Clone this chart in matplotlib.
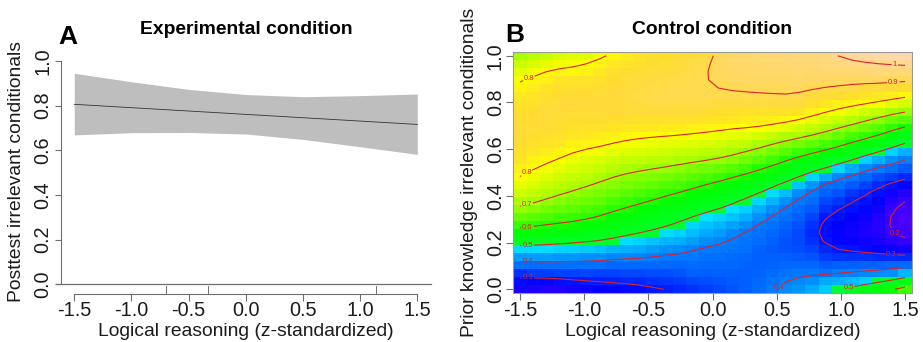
import numpy as np
import matplotlib
matplotlib.use("Agg")
import matplotlib.pyplot as plt
from matplotlib.colors import LinearSegmentedColormap

plt.rcParams["font.family"] = ["Liberation Sans", "DejaVu Sans"]

FIG_W, FIG_H = 923, 342
AXIS_GREY = "#6e6e6e"
TEXT = "#1c1c1c"

# panel A
exp_x = [-1.5, -1.0, -0.5, 0.0, 0.5, 1.0, 1.5]
exp_mean = [0.806, 0.791, 0.776, 0.761, 0.746, 0.731, 0.716]
exp_upper = [0.945, 0.907, 0.873, 0.850, 0.840, 0.845, 0.852]
exp_lower = [0.669, 0.679, 0.680, 0.673, 0.649, 0.616, 0.582]
rug_x = [-0.70, -0.333, 1.136]
tick_x = [-1.5, -1.0, -0.5, 0.0, 0.5, 1.0, 1.5]
tick_y = [0.0, 0.2, 0.4, 0.6, 0.8, 1.0]

# panel B, one list per column, bottom row first
ctrl_columns = [
    [.25,.28,.32,.38,.43,.48,.53,.575,.617,.655,.695,.72,.75,.775,.802,.82,.835,.85,.86,.865,.865,.86,.855,.845,.83,.815,.795,.775,.745,.71],
    [.245,.275,.33,.378,.43,.48,.525,.565,.61,.645,.68,.71,.735,.76,.78,.804,.82,.835,.85,.86,.865,.865,.86,.85,.84,.825,.81,.79,.76,.73],
    [.24,.275,.33,.38,.43,.48,.52,.56,.60,.635,.665,.695,.72,.745,.765,.788,.81,.825,.84,.855,.865,.87,.87,.865,.855,.84,.82,.805,.775,.745],
    [.24,.285,.335,.38,.425,.475,.515,.555,.595,.625,.655,.68,.707,.73,.75,.775,.795,.815,.83,.845,.855,.865,.87,.87,.86,.85,.835,.815,.785,.76],
    [.25,.29,.335,.38,.425,.47,.51,.55,.59,.62,.645,.67,.695,.72,.74,.76,.78,.80,.82,.835,.85,.86,.87,.87,.865,.855,.84,.81,.79,.77],
    [.26,.30,.34,.38,.42,.465,.505,.54,.58,.61,.635,.66,.68,.705,.73,.75,.77,.79,.815,.83,.845,.86,.865,.87,.865,.855,.84,.82,.80,.775],
    [.27,.30,.335,.38,.42,.46,.50,.535,.57,.60,.625,.65,.67,.695,.715,.74,.76,.785,.81,.825,.845,.86,.87,.87,.87,.86,.85,.83,.815,.79],
    [.275,.305,.335,.37,.41,.45,.49,.52,.555,.58,.61,.63,.655,.68,.70,.725,.75,.775,.795,.82,.84,.855,.87,.875,.875,.87,.86,.85,.83,.81],
    [.28,.31,.34,.37,.41,.445,.48,.51,.54,.57,.60,.62,.645,.67,.69,.715,.74,.765,.79,.81,.835,.855,.87,.875,.88,.875,.87,.86,.84,.825],
    [.285,.31,.34,.37,.405,.44,.47,.50,.53,.56,.585,.61,.635,.66,.68,.71,.735,.76,.785,.805,.83,.85,.87,.88,.885,.88,.875,.865,.85,.84],
    [.295,.32,.345,.37,.40,.43,.46,.49,.515,.545,.57,.60,.625,.65,.675,.70,.73,.755,.78,.80,.83,.85,.87,.885,.89,.885,.88,.87,.86,.85],
    [.30,.325,.345,.37,.39,.42,.45,.48,.505,.53,.555,.585,.61,.64,.665,.695,.725,.75,.775,.80,.825,.85,.87,.885,.895,.89,.885,.875,.865,.855],
    [.31,.33,.35,.37,.39,.41,.445,.47,.49,.515,.54,.57,.60,.63,.655,.685,.715,.745,.77,.795,.825,.85,.87,.885,.895,.895,.89,.88,.875,.865],
    [.32,.34,.36,.375,.39,.40,.43,.455,.475,.50,.525,.555,.585,.615,.645,.675,.71,.74,.765,.79,.82,.845,.87,.885,.895,.897,.895,.89,.885,.875],
    [.33,.345,.36,.37,.38,.39,.415,.44,.46,.485,.51,.54,.57,.60,.63,.665,.70,.73,.76,.785,.815,.84,.865,.885,.895,.895,.895,.895,.89,.885],
    [.34,.35,.36,.37,.38,.39,.405,.43,.45,.475,.50,.53,.56,.585,.62,.655,.695,.725,.755,.78,.81,.835,.86,.88,.893,.90,.91,.915,.915,.91],
    [.35,.355,.36,.37,.375,.385,.395,.41,.435,.46,.485,.505,.54,.57,.605,.64,.68,.71,.745,.775,.80,.83,.855,.88,.893,.905,.915,.925,.93,.93],
    [.36,.36,.36,.365,.37,.38,.385,.395,.42,.445,.47,.49,.52,.55,.59,.625,.665,.695,.735,.77,.80,.825,.85,.88,.893,.905,.92,.93,.935,.94],
    [.375,.37,.365,.36,.36,.365,.375,.38,.395,.42,.445,.475,.50,.535,.57,.605,.645,.68,.715,.755,.80,.825,.85,.88,.895,.91,.92,.93,.94,.945],
    [.395,.385,.375,.365,.36,.355,.36,.37,.38,.395,.42,.45,.48,.505,.55,.59,.625,.665,.70,.74,.785,.82,.85,.88,.895,.91,.925,.935,.945,.95],
    [.415,.40,.385,.37,.36,.35,.35,.355,.365,.38,.39,.42,.455,.49,.525,.565,.60,.645,.68,.72,.775,.81,.85,.88,.90,.91,.925,.94,.95,.955],
    [.425,.41,.39,.37,.355,.345,.34,.34,.35,.36,.375,.39,.415,.46,.503,.54,.58,.62,.665,.712,.756,.80,.84,.875,.895,.915,.93,.945,.955,.96],
    [.44,.42,.39,.37,.35,.335,.32,.31,.32,.335,.355,.375,.395,.425,.475,.52,.565,.607,.65,.695,.737,.78,.82,.85,.88,.905,.925,.94,.955,.965],
    [.465,.44,.385,.355,.33,.31,.29,.28,.285,.295,.32,.34,.365,.38,.44,.503,.545,.585,.63,.675,.72,.76,.805,.835,.87,.90,.925,.945,.96,.975],
    [.49,.445,.40,.36,.325,.295,.275,.265,.27,.285,.30,.325,.35,.375,.405,.475,.527,.57,.615,.655,.70,.745,.785,.82,.86,.89,.925,.95,.97,1.005],
    [.52,.455,.405,.36,.32,.29,.265,.255,.26,.27,.285,.30,.325,.355,.39,.44,.503,.545,.59,.63,.68,.725,.77,.815,.85,.888,.92,.95,.985,1.02],
    [.54,.47,.41,.365,.32,.28,.26,.245,.25,.26,.275,.285,.305,.335,.37,.41,.47,.52,.57,.615,.66,.705,.75,.80,.84,.875,.92,.955,.995,1.03],
    [.56,.495,.415,.365,.315,.275,.25,.235,.23,.24,.255,.27,.285,.31,.345,.39,.445,.50,.55,.595,.64,.685,.735,.79,.835,.875,.92,.96,1.0,1.04],
    [.59,.51,.42,.37,.315,.265,.225,.20,.185,.19,.205,.23,.255,.29,.33,.375,.42,.47,.52,.567,.615,.66,.712,.77,.825,.87,.915,.96,1.005,1.05],
    [.625,.54,.45,.375,.31,.255,.205,.18,.165,.16,.175,.20,.235,.275,.31,.355,.40,.445,.495,.54,.59,.645,.70,.755,.81,.86,.91,.96,1.01,1.06],
]
ctrl_x = [-1.5 + i * 3 / 29 for i in range(30)]
ctrl_y = [i / 29 for i in range(30)]
contour_levels = [0.2, 0.3, 0.4, 0.5, 0.6, 0.7, 0.8, 0.9, 1.0]
label_spots = [(-1.44, 0.915), (-1.44, 0.49), (-1.44, 0.35), (-1.44, 0.26), (-1.44, 0.185),
               (-1.44, 0.117), (-1.44, 0.052), (1.41, 0.885), (1.42, 0.96), (1.42, 0.235),
               (1.39, 0.147), (0.50, 0.02), (1.06, 0.007)]

# colour ramp: value, then colour
ramp_values = [0.15, 0.24, 0.27, 0.32, 0.36, 0.42, 0.487, 0.489, 0.58, 0.65, 0.72, 0.80, 0.83, 0.86, 0.92, 1.06]
ramp_colors = ["#5000ff", "#2000ff", "#0000ff", "#0030ff", "#0060ff", "#0090ff", "#00e8ff", "#00ff30", "#00ff00",
               "#60ff00", "#b0ff00", "#ffff00", "#ffe820", "#ffdd30", "#ffd860", "#ffd8b0"]


def px_axes(fig, left, top, right, bottom):
    return fig.add_axes([left / FIG_W, 1 - bottom / FIG_H, (right - left) / FIG_W, (bottom - top) / FIG_H])


def smooth(z):
    # 1-2-1 pass so the contours don't pick up the rounding in the read values
    p = np.pad(z, 1, mode="reflect", reflect_type="odd")
    p = (p[:-2, :] + 2 * p[1:-1, :] + p[2:, :]) / 4
    return (p[:, :-2] + 2 * p[:, 1:-1] + p[:, 2:]) / 4


fig = plt.figure(figsize=(FIG_W / 100, FIG_H / 100), dpi=100)

# A
ax = px_axes(fig, 61, 61, 431, 284.3)
ax.set_xlim(-1.616, 1.62)
ax.set_ylim(0, 1)
ax.fill_between(exp_x, exp_lower, exp_upper, color="#bebebe", lw=0)
ax.plot(exp_x, exp_mean, color="#333333", lw=0.6)
for s in ["top", "right"]:
    ax.spines[s].set_visible(False)
ax.spines["left"].set_color(AXIS_GREY)
ax.spines["bottom"].set_position(("outward", 6.8))
ax.spines["bottom"].set_bounds(-1.5, 1.5)
ax.spines["bottom"].set_color(AXIS_GREY)
ax.plot([-1.66, 1.62], [0, 0], color=AXIS_GREY, lw=0.9, clip_on=False)
for x in rug_x:
    ax.plot([x, x], [-0.008, -0.041], color=AXIS_GREY, lw=0.7, clip_on=False)
ax.set_xticks(tick_x, [f"{t:.1f}" for t in tick_x])
ax.set_yticks(tick_y, [f"{t:.1f}" for t in tick_y])
ax.tick_params(axis="x", length=5, width=0.8, color=AXIS_GREY, labelsize=14.3, labelcolor=TEXT, pad=0.5)
ax.tick_params(axis="y", length=4, width=0.8, color=AXIS_GREY, labelsize=14.3, labelcolor=TEXT, pad=2)
for lab in ax.get_yticklabels():
    lab.set_rotation(90)
    lab.set_va("center")
fig.text(246 / FIG_W, 1 - 332 / FIG_H, "Logical reasoning (z-standardized)", ha="center", va="center", fontsize=13.9, color=TEXT)
fig.text(17 / FIG_W, 1 - 172 / FIG_H, "Posttest irrelevant conditionals", ha="center", va="center",
         rotation=90, fontsize=13.9, color=TEXT)
fig.text(246 / FIG_W, 1 - 29 / FIG_H, "Experimental condition", ha="center", va="center", fontsize=13.9, weight="bold", color="black")
fig.text(68 / FIG_W, 1 - 37 / FIG_H, "A", ha="center", va="center", fontsize=19, weight="bold", color="black")

# B
ctrl = np.array(ctrl_columns).T
lo, hi = ramp_values[0], ramp_values[-1]
stops = [(v - lo) / (hi - lo) for v in ramp_values]
cmap = LinearSegmentedColormap.from_list("ctrl", list(zip(stops, ramp_colors)), N=512)

bx = px_axes(fig, 513.3, 51.7, 911.7, 293.3)
bx.pcolormesh(ctrl_x, ctrl_y, ctrl, shading="nearest", cmap=cmap, vmin=lo, vmax=hi)
cs = bx.contour(ctrl_x, ctrl_y, smooth(ctrl), levels=contour_levels, colors="#e0202a", linewidths=0.8)
labels = bx.clabel(cs, fontsize=5.5, fmt="%g", manual=label_spots, inline=True, inline_spacing=1)
for t in labels:
    t.set_rotation(0)
for s in bx.spines.values():
    s.set_color("#9a9a9a")
bx.set_xlim(-1.552, 1.552)
bx.set_ylim(-0.0172, 1.0172)
bx.set_xticks(tick_x, [f"{t:.1f}" for t in tick_x])
bx.set_yticks(tick_y, [f"{t:.1f}" for t in tick_y])
bx.tick_params(axis="x", length=5, width=0.8, color=AXIS_GREY, labelsize=14.3, labelcolor=TEXT, pad=0.5)
bx.tick_params(axis="y", length=5, width=0.8, color=AXIS_GREY, labelsize=14.3, labelcolor=TEXT, pad=1)
for lab in bx.get_yticklabels():
    lab.set_rotation(90)
    lab.set_va("center")
fig.text(712.5 / FIG_W, 1 - 332 / FIG_H, "Logical reasoning (z-standardized)", ha="center", va="center", fontsize=13.9, color=TEXT)
fig.text(470 / FIG_W, 1 - 172.5 / FIG_H, "Prior knowledge irrelevant conditionals", ha="center", va="center",
         rotation=90, fontsize=13.9, color=TEXT)
fig.text(712 / FIG_W, 1 - 29 / FIG_H, "Control condition", ha="center", va="center", fontsize=13.9, weight="bold", color="black")
fig.text(515 / FIG_W, 1 - 35 / FIG_H, "B", ha="center", va="center", fontsize=19, weight="bold", color="black")

fig.savefig("out.png", dpi=100)
